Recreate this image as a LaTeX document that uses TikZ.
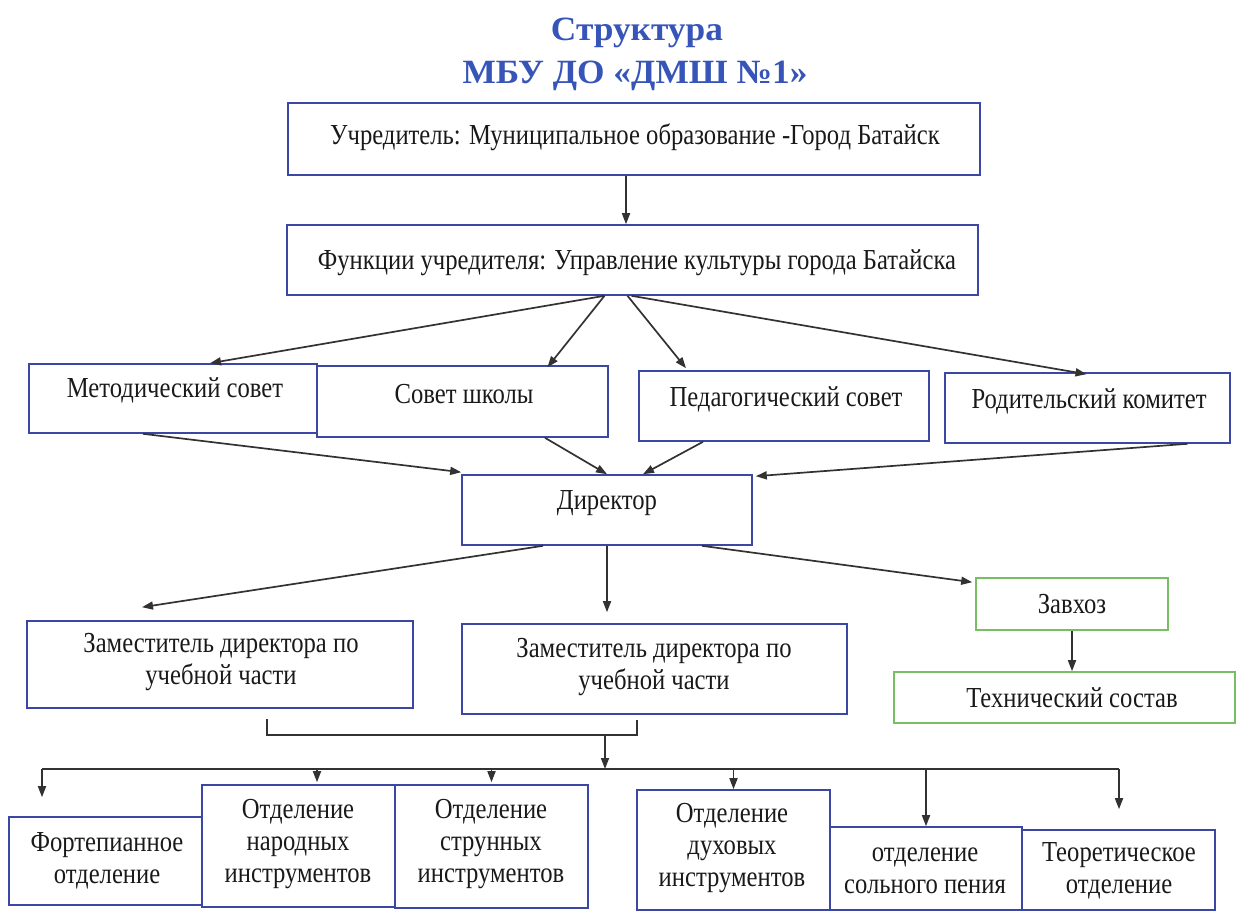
\documentclass[tikz,border=0pt]{standalone}
\usepackage{fontspec}
\setmainfont[FakeStretch=0.85]{Liberation Serif}
\newfontfamily\titlefont[FakeStretch=1.04]{Liberation Serif}
\usetikzlibrary{arrows.meta,fit,calc}
\definecolor{boxblue}{RGB}{60,70,165}
\definecolor{boxgreen}{RGB}{120,190,100}
\definecolor{titleblue}{RGB}{55,85,185}
\definecolor{linegray}{RGB}{50,50,50}
\definecolor{txtcol}{RGB}{25,25,25}
\begin{document}
\begin{tikzpicture}[x=1pt,y=-1pt,
 box/.style={draw=boxblue,line width=1.6pt,inner sep=0pt},
 gbox/.style={draw=boxgreen,line width=1.6pt,inner sep=0pt},
 lbl/.style={font=\fontsize{29}{32}\selectfont,text=txtcol,align=center,inner sep=0pt},
 ttl/.style={font=\titlefont\bfseries\fontsize{34}{37}\selectfont,text=titleblue,inner sep=0pt},
 conn/.style={draw=linegray,line width=1.7pt},
 arr/.style={conn,-{Triangle[length=11pt,width=8pt]}},
]
\useasboundingbox (0,0) rectangle (1240,913);
% title
\node[ttl] (t1) at (637,33) {Структура};
\node[ttl] (t2) at (635,76) {МБУ ДО «ДМШ №1»};
% boxes
\node[box,fit={(288,103) (980,175)}] (A) {};
\node[box,fit={(287,225) (978,295)}] (B) {};
\node[box,fit={(29,364) (317,433)}] (metod) {};
\node[box,fit={(317,366) (608,437)}] (sovet) {};
\node[box,fit={(639,371) (929,441)}] (ped) {};
\node[box,fit={(945,373) (1230,443)}] (rod) {};
\node[box,fit={(462,475) (752,545)}] (dir) {};
\node[box,fit={(27,621) (413,708)}] (zam1) {};
\node[box,fit={(462,624) (847,714)}] (zam2) {};
\node[gbox,fit={(976,578) (1168,630)}] (zavhoz) {};
\node[gbox,fit={(894,672) (1235,723)}] (tech) {};
\node[box,fit={(9,817) (202,905)}] (fortep) {};
\node[box,fit={(202,785) (395,907)}] (nar) {};
\node[box,fit={(395,785) (588,908)}] (str) {};
\node[box,fit={(637,790) (830,910)}] (duh) {};
\node[box,fit={(830,827) (1022,910)}] (sol) {};
\node[box,fit={(1022,830) (1215,910)}] (teor) {};
% labels
\node[lbl] (At) at (635,137) {Учредитель: Муниципальное образование -Город Батайск};
\node[lbl] (Bt) at (637,263) {Функции учредителя: Управление культуры города Батайска};
\node[lbl] (metodt) at (175,390) {Методический совет};
\node[lbl] (sovett) at (464,394) {Совет школы};
\node[lbl] (pedt) at (786,399) {Педагогический совет};
\node[lbl] (rodt) at (1089,401) {Родительский комитет};
\node[lbl] (dirt) at (607,503) {Директор};
\node[lbl] (zam1t) at (221,662) {Заместитель директора по\\учебной части};
\node[lbl] (zam2t) at (654,667) {Заместитель директора по\\учебной части};
\node[lbl] (zavhozt) at (1072,604) {Завхоз};
\node[lbl] (techt) at (1072,698) {Технический состав};
\node[lbl] (forteplbl) at (107,861) {Фортепианное\\отделение};
\node[lbl] (nart) at (298,844) {Отделение\\народных\\инструментов};
\node[lbl] (strt) at (491,844) {Отделение\\струнных\\инструментов};
\node[lbl] (duht) at (732,848) {Отделение\\духовых\\инструментов};
\node[lbl] (solt) at (925,871) {отделение\\сольного пения};
\node[lbl] (teort) at (1119,871) {Теоретическое\\отделение};
% connectors top
\draw[arr] ($(A.south)+(-8,0)$) -- ($(A.south |- B.north)+(-8,0)$);
\draw[arr] ($(B.south)+(-28,0)$) -- ($(metod.north)+(37,0)$);
\draw[arr] ($(B.south)+(-28,0)$) -- ($(sovet.north)+(85,2)$);
\draw[arr] ($(B.south)+(-5,0)$) -- ($(ped.north)+(-98,-2)$);
\draw[arr] ($(B.south)+(-1,0)$) -- ($(rod.north)+(-1,2)$);
% into director
\draw[arr] ($(metod.south)+(-30,0)$) -- ($(dir.north west)+(0,-2)$);
\draw[arr] ($(sovet.south)+(82.5,0)$) -- (dir.north);
\draw[arr] ($(ped.south)+(-81,0)$) -- ($(dir.north)+(36,0)$);
\draw[arr] ($(rod.south)+(100,0)$) -- ($(dir.north east)+(3,2)$);
% from director
\draw[arr] ($(dir.south)+(-64,0)$) -- ($(zam1.north)+(-78,-13)$);
\draw[arr] (dir.south) -- ($(dir.south |- zam2.north)+(0,-11)$);
\draw[arr] ($(dir.south)+(95,0)$) -- ($(zavhoz.north west)+(-3,5)$);
\draw[arr] (zavhoz.south) -- (zavhoz.south |- tech.north);
% bracket and bus
\coordinate (jm) at (605,734);
\coordinate (busL) at (42,769);
\coordinate (busR) at (1119,769);
\draw[conn] ($(zam1.south)+(47,10)$) -- ++(0,16) -| ($(zam2.south)+(-17.5,5)$);
\draw[arr] (jm) -- (jm |- busL);
\draw[conn] (busL) -- (busR);
\draw[arr] (busL) -- ($(busL |- fortep.north)+(0,-19)$);
\draw[arr] ($(busL -| nar.north)+(18.5,0)$) -- ($(nar.north)+(18.5,-2)$);
\draw[arr] (busL -| str.north) -- ($(str.north)+(0,-2)$);
\draw[arr] (busL -| duh.north) -- (duh.north);
\draw[arr] (busL -| sol.north) -- (sol.north);
\draw[arr] (busR) -- ($(busR |- teor.north)+(0,-20)$);
\end{tikzpicture}
\end{document}
